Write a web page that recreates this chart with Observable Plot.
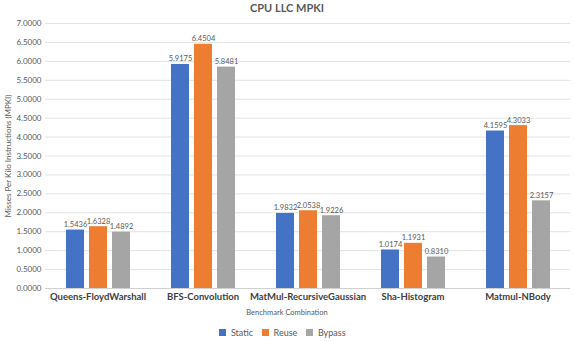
<!DOCTYPE html>
<html><head><meta charset="utf-8">
<script src="https://cdn.jsdelivr.net/npm/d3@7"></script>
<script src="https://cdn.jsdelivr.net/npm/@observablehq/plot@0.6"></script>
<style>
body{margin:0;background:#fff;font-family:Lato, "Open Sans", sans-serif;width:574px;height:341px;overflow:hidden;}
#title{height:16px;line-height:16px;text-align:center;font-weight:bold;font-size:11px;color:#595959;}
#xlabel{height:10px;line-height:10px;text-align:center;font-size:7.5px;color:#595959;}
#legend{display:flex;justify-content:center;margin-top:-2px;}
</style></head><body>
<div id="title">CPU LLC MPKI</div>
<div id="chart"></div>
<div id="xlabel">Benchmark Combination</div>
<div id="legend"></div>
<script>
const categories = ["Queens-FloydWarshall", "BFS-Convolution", "MatMul-RecursiveGaussian", "Sha-Histogram", "Matmul-NBody"];
const series = ["Static", "Reuse", "Bypass"];
const staticValues = [1.5436, 5.9175, 1.9832, 1.0174, 4.1595];
const reuseValues = [1.6328, 6.4504, 2.0538, 1.1931, 4.3033];
const bypassValues = [1.4892, 5.8481, 1.9226, 0.8310, 2.3157];
const yTicks = [0, 0.5, 1, 1.5, 2, 2.5, 3, 3.5, 4, 4.5, 5, 5.5, 6, 6.5, 7];
const colors = ["#4472C4", "#ED7D31", "#A5A5A5"];

const valuesBySeries = [staticValues, reuseValues, bypassValues];
const data = [];
categories.forEach((c, i) => series.forEach((s, j) => data.push({category: c, series: s, value: valuesBySeries[j][i]})));

const chart = Plot.plot({
  width: 574, height: 292,
  marginLeft: 44, marginRight: 4, marginTop: 7, marginBottom: 20,
  style: {fontFamily: "Lato, 'Open Sans', sans-serif", fontSize: "9px", color: "#595959", background: "white"},
  fx: {domain: categories, padding: 0, label: null},
  x: {domain: series, paddingInner: 0.23, paddingOuter: 0.85, axis: null},
  y: {domain: [0, 7]},
  color: {domain: series, range: colors},
  marks: [
    Plot.gridY(yTicks, {stroke: "#e2e2e2", strokeOpacity: 1}),
    Plot.ruleY([0], {stroke: "#d0d0d0"}),
    Plot.barY(data, {fx: "category", x: "series", y: "value", fill: "series"}),
    Plot.text(data, {fx: "category", x: "series", y: "value", text: d => d.value.toFixed(4), dy: -3, lineAnchor: "bottom", fill: "#595959", fontSize: 7.5}),
    Plot.axisY(yTicks, {tickSize: 0, tickPadding: 4, tickFormat: d3.format(".4f"), label: "Misses Per Kilo Instructions (MPKI)", labelAnchor: "center", labelOffset: 40, labelArrow: "none", fontSize: 8, fill: "#595959"}),
    Plot.axisFx({anchor: "bottom", tickSize: 0, tickPadding: 5, fontWeight: "bold", fontSize: 9.5, label: null, fill: "#404040"})
  ]
});
document.getElementById("chart").appendChild(chart);
const leg = chart.legend("color", {swatchSize: 7, style: {fontFamily: "Lato, 'Open Sans', sans-serif", fontSize: "9px", color: "#595959"}});
document.getElementById("legend").appendChild(leg);
</script>
</body></html>
